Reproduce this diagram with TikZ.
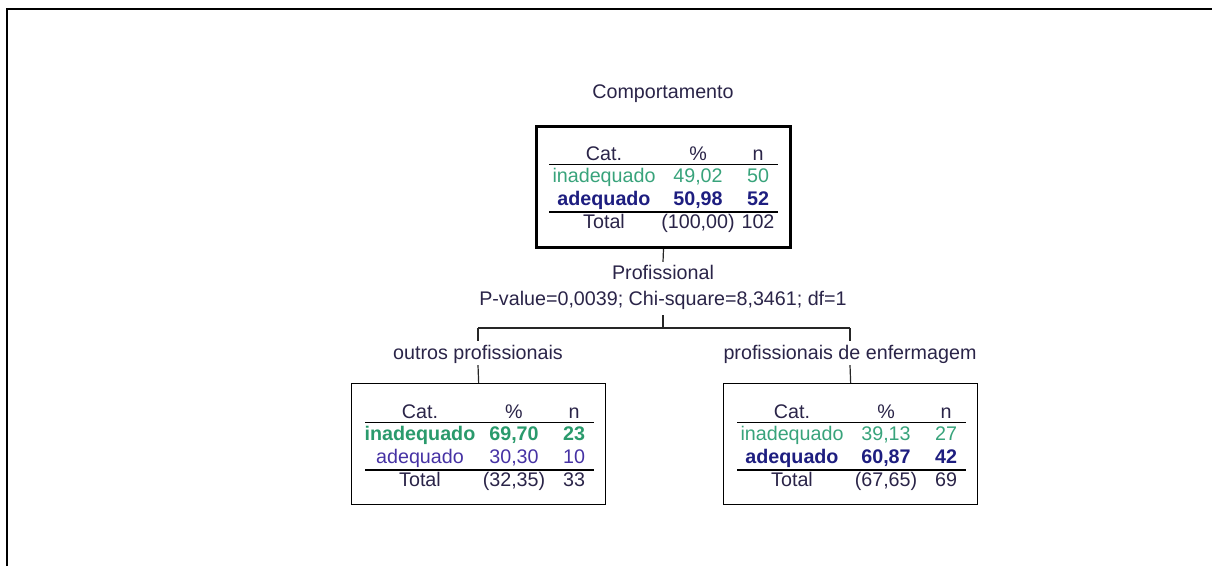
\documentclass[tikz,border=0pt]{standalone}
\usepackage{fontspec}
\setmainfont{Liberation Sans}
\definecolor{grn}{HTML}{38A37B}
\definecolor{grnb}{HTML}{2A9A6C}
\definecolor{nvy}{HTML}{1E1E80}
\definecolor{pur}{HTML}{4632A4}
\definecolor{txt}{HTML}{2A2448}
\newcommand\tfont{\fontsize{19.7}{23}\selectfont}
\tikzset{
  lbl/.style={font=\tfont, text=txt, inner xsep=0pt, text height=13.8pt, text depth=0pt},
  cell/.style={font=\tfont, text=txt, inner sep=0pt, anchor=base},
  gcell/.style={cell, text=grn},
  gbcell/.style={cell, text=grnb, font=\tfont\bfseries},
  ncell/.style={cell, text=pur},
  nbcell/.style={cell, text=nvy, font=\tfont\bfseries},
  nodebox/.style={draw=black, line width=1.3pt, minimum width=254pt, minimum height=121pt, inner sep=0pt, anchor=north west},
  rootbox/.style={nodebox, line width=3pt},
  rulel/.style={draw=black, line width=1.3pt},
  conn/.style={draw=black!85, line width=1.2pt},
  frame/.style={draw=black, line width=2pt},
}
\begin{document}
\begin{tikzpicture}[x=1pt, y=-1pt]
\useasboundingbox (0,0) rectangle (1212,566);
\draw[frame] (7,566) -- (7,9) -- (1212,9);

\node[lbl] (title) at (663,92) {Comportamento};

% root box
\begin{scope}[shift={(535,125)}]
  \node[rootbox] (root) at (0,0) {};
  \node[cell] (r-h1) at (69,35) {Cat.};
  \node[cell] (r-h2) at (163,35) {\%};
  \node[cell] (r-h3) at (223,35) {n};
  \coordinate (r-a1) at (14,39.5); \coordinate (r-a2) at (243,39.5);
  \draw[rulel] (r-a1) -- (r-a2);
  \node[gcell] (r-11) at (69,57) {inadequado};
  \node[gcell] (r-12) at (163,57) {49,02};
  \node[gcell] (r-13) at (223,57) {50};
  \node[nbcell] (r-21) at (69,80) {adequado};
  \node[nbcell] (r-22) at (163,80) {50,98};
  \node[nbcell] (r-23) at (223,80) {52};
  \coordinate (r-b1) at (14,87); \coordinate (r-b2) at (243,87);
  \draw[rulel] (r-b1) -- (r-b2);
  \node[cell] (r-31) at (69,103) {Total};
  \node[cell] (r-32) at (163,103) {(100,00)};
  \node[cell] (r-33) at (223,103) {102};
\end{scope}

\node[lbl, inner ysep=4pt] (prof) at (663,273) {Profissional};
\node[lbl, inner ysep=9pt] (pval) at (663,299) {P-value=0,0039; Chi-square=8,3461; df=1};
\draw[conn] (root.south) -- (prof.north);

\coordinate (split) at (663,328);
\coordinate (jl) at (478,328);
\coordinate (jr) at (850,328);
\draw[conn] (pval.south) -- (split);
\draw[conn] (jl) -- (jr);

\node[lbl, inner ysep=5pt] (labl) at (478,353) {outros profissionais};
\node[lbl, inner ysep=5pt] (labr) at (850,353) {profissionais de enfermagem};
\draw[conn] (jl) -- (labl.north);
\draw[conn] (jr) -- (labr.north);

% left box
\begin{scope}[shift={(351,383)}]
  \node[nodebox] (left) at (0,0) {};
  \node[cell] (l-h1) at (69,35) {Cat.};
  \node[cell] (l-h2) at (163,35) {\%};
  \node[cell] (l-h3) at (223,35) {n};
  \coordinate (l-a1) at (14,39.5); \coordinate (l-a2) at (243,39.5);
  \draw[rulel] (l-a1) -- (l-a2);
  \node[gbcell] (l-11) at (69,57) {inadequado};
  \node[gbcell] (l-12) at (163,57) {69,70};
  \node[gbcell] (l-13) at (223,57) {23};
  \node[ncell] (l-21) at (69,80) {adequado};
  \node[ncell] (l-22) at (163,80) {30,30};
  \node[ncell] (l-23) at (223,80) {10};
  \coordinate (l-b1) at (14,87); \coordinate (l-b2) at (243,87);
  \draw[rulel] (l-b1) -- (l-b2);
  \node[cell] (l-31) at (69,103) {Total};
  \node[cell] (l-32) at (163,103) {(32,35)};
  \node[cell] (l-33) at (223,103) {33};
\end{scope}

% right box
\begin{scope}[shift={(723,383)}]
  \node[nodebox] (right) at (0,0) {};
  \node[cell] (q-h1) at (69,35) {Cat.};
  \node[cell] (q-h2) at (163,35) {\%};
  \node[cell] (q-h3) at (223,35) {n};
  \coordinate (q-a1) at (14,39.5); \coordinate (q-a2) at (243,39.5);
  \draw[rulel] (q-a1) -- (q-a2);
  \node[gcell] (q-11) at (69,57) {inadequado};
  \node[gcell] (q-12) at (163,57) {39,13};
  \node[gcell] (q-13) at (223,57) {27};
  \node[nbcell] (q-21) at (69,80) {adequado};
  \node[nbcell] (q-22) at (163,80) {60,87};
  \node[nbcell] (q-23) at (223,80) {42};
  \coordinate (q-b1) at (14,87); \coordinate (q-b2) at (243,87);
  \draw[rulel] (q-b1) -- (q-b2);
  \node[cell] (q-31) at (69,103) {Total};
  \node[cell] (q-32) at (163,103) {(67,65)};
  \node[cell] (q-33) at (223,103) {69};
\end{scope}

\draw[conn] (labl.south) -- (left.north);
\draw[conn] (labr.south) -- (right.north);
\end{tikzpicture}
\end{document}
